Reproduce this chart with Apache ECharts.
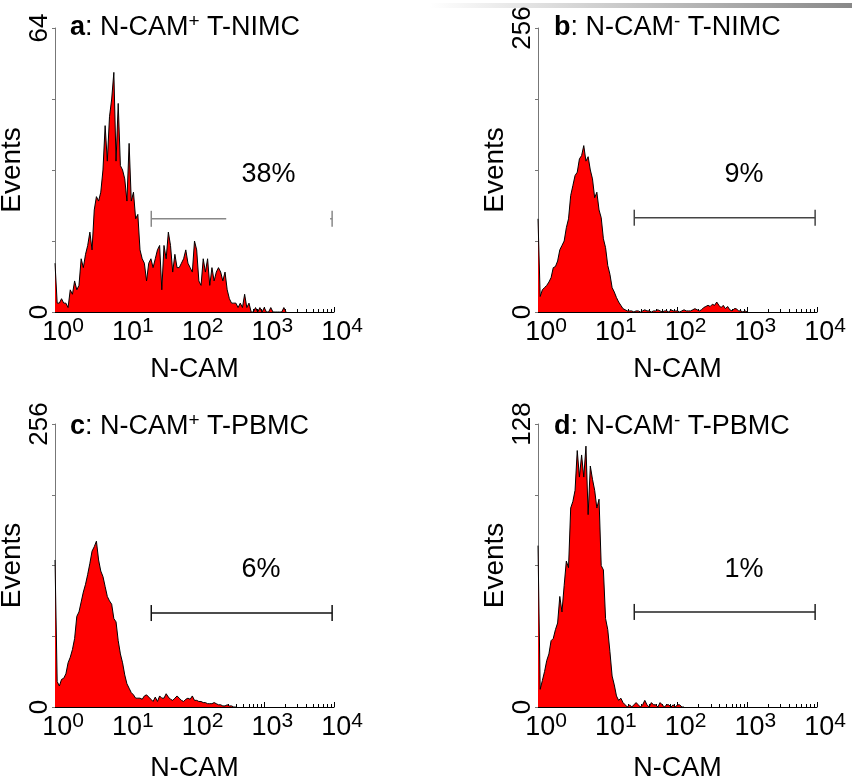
<!DOCTYPE html>
<html>
<head>
<meta charset="utf-8">
<title>N-CAM histograms</title>
<script src="https://cdn.jsdelivr.net/npm/echarts@6/dist/echarts.min.js"></script>
<style>
  html, body { margin: 0; padding: 0; background: #fff; }
  #chart { width: 852px; height: 784px; }
</style>
</head>
<body>
<div id="chart"></div>
<script>
const FONT = 'Liberation Sans, Arial, sans-serif';

// panel captions and scales
const panelLetters = ['a', 'b', 'c', 'd'];
const panelMarkers = ['+', '-', '+', '-'];
const panelCells = ['T-NIMC', 'T-NIMC', 'T-PBMC', 'T-PBMC'];
const yMaxes = [64, 256, 256, 128];

// gate markers
const gatePercents = ['38%', '9%', '6%', '1%'];
const gateLevels = [21, 85, 85, 43];
const gateStart = 24;
const gateEnd = 9400;
const gateGaps = [[285, 8800], null, null, null]; // panel a line is broken
const percentAt = [[1150, 31], [900, 124], [900, 124], [900, 62]];

// events, every 2nd channel of 256 (64 channels per decade)
const countsA = [11, 2, 2, 3, 2, 2, 1, 5, 4, 7,
  5, 6, 12, 10, 13, 15, 18, 14, 23, 26,
  25, 27, 32, 42, 34, 44, 48, 54, 34, 47,
  33, 32, 30, 25, 38, 25, 27, 21, 22, 14,
  12, 11, 7, 11, 12, 10, 12, 14, 15, 5,
  15, 12, 18, 15, 9, 13, 10, 10, 11, 12,
  14, 11, 10, 9, 16, 14, 7, 6, 12, 9,
  12, 6, 10, 7, 9, 10, 9, 7, 9, 5,
  3, 2, 2, 2, 1, 2, 1, 4, 1, 2,
  0, 0, 1, 0, 1, 0, 1, 0, 0, 1,
  0, 0, 0, 0, 0, 1, 0];
const countsB = [84, 14, 20, 22, 24, 27, 31, 40, 41, 46,
  56, 60, 64, 76, 84, 105, 114, 123, 126, 138,
  141, 150, 136, 140, 128, 120, 103, 108, 92, 85,
  66, 58, 42, 34, 22, 18, 13, 9, 6, 3,
  2, 1, 1, 1, 0, 1, 1, 0, 1, 2,
  1, 1, 0, 1, 1, 2, 1, 0, 1, 1,
  0, 2, 1, 1, 1, 0, 1, 2, 1, 1,
  1, 2, 3, 2, 1, 2, 4, 5, 6, 5,
  7, 6, 9, 6, 4, 6, 3, 5, 2, 1,
  3, 3, 1, 1, 0, 1, 0];
const countsC = [133, 23, 19, 25, 26, 30, 40, 45, 52, 62,
  82, 86, 95, 104, 111, 120, 130, 141, 145, 150,
  133, 123, 118, 109, 100, 96, 93, 80, 77, 60,
  48, 40, 29, 21, 17, 13, 11, 8, 8, 8,
  7, 10, 11, 9, 7, 5, 9, 5, 10, 8,
  8, 12, 9, 7, 6, 8, 10, 8, 6, 5,
  7, 8, 7, 10, 6, 6, 5, 5, 4, 4,
  3, 3, 3, 4, 3, 2, 2, 1, 1, 2,
  1, 1, 0, 0];
const countsD = [73, 8, 12, 16, 21, 24, 30, 31, 35, 38,
  50, 43, 55, 66, 63, 90, 93, 98, 116, 104,
  114, 104, 118, 87, 109, 103, 98, 90, 94, 64,
  62, 40, 35, 25, 14, 10, 5, 3, 4, 2,
  1, 0, 1, 0, 1, 2, 1, 0, 1, 3,
  1, 0, 2, 1, 1, 0, 2, 1, 0, 1,
  1, 0, 1, 0, 1, 1, 0, 0];
const allCounts = [countsA, countsB, countsC, countsD];

const grids = [
  { left: 55, top: 28, width: 279, height: 284 },
  { left: 538, top: 28, width: 279, height: 284 },
  { left: 55, top: 424, width: 279, height: 283 },
  { left: 538, top: 424, width: 279, height: 283 }
];
const titlePos = [[70, 12], [554, 12], [70, 411], [554, 411]];
const gateColors = ['#888', '#444', '#111', '#222'];
const xNameGaps = [44, 44, 48, 48];

const chart = echarts.init(document.getElementById('chart'));

const xAxes = grids.map((g, p) => ({
  type: 'log',
  logBase: 10,
  gridIndex: p,
  min: 1,
  max: 10000,
  name: 'N-CAM',
  nameLocation: 'middle',
  nameGap: xNameGaps[p],
  nameMoveOverlap: false,
  nameTextStyle: { fontSize: 27, color: '#000', fontFamily: FONT },
  axisLine: { lineStyle: { color: '#000', width: 1 } },
  axisTick: { inside: true, length: 5, lineStyle: { color: '#000' } },
  minorTick: { show: true, splitNumber: 9, length: 3, lineStyle: { color: '#000' } },
  splitLine: { show: false },
  axisLabel: {
    margin: 4,
    formatter: v => '{p| }{b|10}{s|' + Math.round(Math.log10(v)) + '}',
    rich: {
      p: { width: 16 },
      b: { fontSize: 27, lineHeight: 30, verticalAlign: 'bottom', color: '#000', fontFamily: FONT },
      s: { fontSize: 21, lineHeight: 22, verticalAlign: 'top', color: '#000', fontFamily: FONT }
    }
  }
}));

const yAxes = grids.map((g, p) => ({
  type: 'value',
  gridIndex: p,
  min: 0,
  max: yMaxes[p],
  interval: yMaxes[p] / 4,
  name: 'Events',
  nameLocation: 'middle',
  nameGap: 18,
  nameTextStyle: { fontSize: 28, color: '#000', fontFamily: FONT },
  axisLine: { show: true, lineStyle: { color: '#777', width: 1 } },
  axisTick: { show: true, length: 3, lineStyle: { color: '#777' } },
  splitLine: { show: false },
  axisLabel: {
    rotate: 90,
    margin: 2,
    fontSize: 26,
    color: '#000',
    fontFamily: FONT,
    formatter: v => (v === 0 || v === yMaxes[p]) ? String(v) : ''
  }
}));

const series = [];
allCounts.forEach((counts, p) => {
  series.push({
    type: 'line',
    xAxisIndex: p,
    yAxisIndex: p,
    data: counts.map((v, i) => [Math.pow(10, (i * 2) / 64), v]),
    symbol: 'none',
    lineStyle: { color: '#000', width: 1 },
    areaStyle: { color: '#ff0000', opacity: 1 },
    z: 2
  });

  const lvl = gateLevels[p];
  const tick = { symbol: 'rect', symbolSize: [1.5, 16] };
  let gate;
  if (gateGaps[p]) {
    gate = [
      Object.assign({ value: [gateStart, lvl] }, tick),
      { value: [gateGaps[p][0], lvl], symbol: 'none' },
      { value: [1000, '-'], symbol: 'none' },
      { value: [gateGaps[p][1], lvl], symbol: 'none' },
      Object.assign({ value: [gateEnd, lvl] }, tick)
    ];
  } else {
    gate = [
      Object.assign({ value: [gateStart, lvl] }, tick),
      Object.assign({ value: [gateEnd, lvl] }, tick)
    ];
  }
  series.push({
    type: 'line',
    xAxisIndex: p,
    yAxisIndex: p,
    data: gate,
    showSymbol: true,
    connectNulls: false,
    lineStyle: { color: gateColors[p], width: 1.4, opacity: 1 },
    itemStyle: { color: gateColors[p], opacity: 1 },
    z: 3
  });

  series.push({
    type: 'scatter',
    xAxisIndex: p,
    yAxisIndex: p,
    data: [percentAt[p]],
    symbolSize: 1,
    itemStyle: { color: 'rgba(255,255,255,0)', opacity: 1 },
    label: {
      show: true,
      position: 'inside',
      formatter: gatePercents[p],
      fontSize: 27,
      color: '#000',
      opacity: 1,
      textBorderWidth: 0,
      fontFamily: FONT
    },
    z: 4
  });
});

const titles = panelLetters.map((l, p) => ({
  text: '{b|' + l + '}: N-CAM{s|' + panelMarkers[p] + '} ' + panelCells[p],
  left: titlePos[p][0],
  top: titlePos[p][1],
  padding: 0,
  textStyle: {
    fontSize: 27,
    fontWeight: 'normal',
    color: '#000',
    fontFamily: FONT,
    lineHeight: 32,
    rich: {
      b: { fontSize: 27, fontWeight: 'bold', color: '#000', fontFamily: FONT, lineHeight: 32 },
      s: { fontSize: 19, color: '#000', fontFamily: FONT, lineHeight: 18, verticalAlign: 'top' }
    }
  }
}));

const option = {
  animation: false,
  backgroundColor: '#fff',
  title: titles,
  grid: grids.map(g => Object.assign({ containLabel: false, outerBoundsMode: 'none' }, g)),
  xAxis: xAxes,
  yAxis: yAxes,
  series: series,
  graphic: [{
    type: 'rect',
    silent: true,
    shape: { x: 430, y: 3, width: 422, height: 5 },
    style: {
      fill: new echarts.graphic.LinearGradient(0, 0, 1, 0, [
        { offset: 0, color: '#ffffff' },
        { offset: 1, color: '#888888' }
      ])
    }
  }]
};
chart.setOption(option);
</script>
</body>
</html>
